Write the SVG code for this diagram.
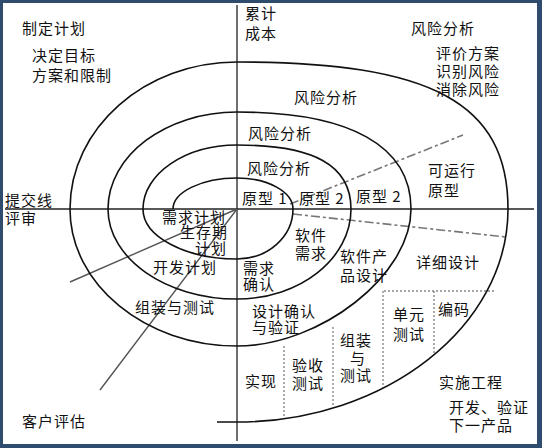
<svg xmlns="http://www.w3.org/2000/svg" width="542" height="448" viewBox="0 0 542 448">
<style>
text{font-family:"Noto Sans CJK SC","Noto Sans",sans-serif;font-size:15px;fill:#111;letter-spacing:1px}
.ax{stroke:#222;stroke-width:1.3;fill:none}
.sp{stroke:#111;stroke-width:1.6;fill:none}
.ray{stroke:#555;stroke-width:1.4;fill:none}
.dash{stroke:#777;stroke-width:1.6;fill:none;stroke-dasharray:9 3 3 3}
.dot{stroke:#888;stroke-width:1.4;fill:none;stroke-dasharray:2 2}
</style>
<rect x="0" y="0" width="542" height="448" fill="#2f4c6f"/>
<rect x="3" y="3" width="534" height="441" fill="#ffffff"/>
<g id="connectors">
<path class="ax" d="M237 5V441M5 209H534"/>
<path class="ray" d="M237 209L70 282M237 209L100 390"/>
<path class="dash" d="M290 204L463 135M293 214L506 237"/>
<path class="dot" d="M384 291H495M434 291V355M383 291V388M333 327V407M284 346V419"/>
</g>
<g id="spiral">
<path class="sp" d="M173 209C173 192 202 178 237 178C268 178 293 192 293 209C293 236.5 268 259 237 259C185 259 143 236.5 143 209C143 174 185 145 237 145C314.5 145 351 165.5 351 209C351 258.5 300 299 237 299C166 299 108 258.5 108 209C108 155.6 166 112 237 112C350 112 411 146 411 209C411 275 320.5 346 237 346C145 346 70 284 70 209C70 128 145 62 237 62C432 62 508 103 508 209C508 326 386 422 237 422L217 422"/>
</g>
<g id="labels">
<text x="22" y="34">制定计划</text>
<text x="32" y="61">决定目标</text>
<text x="32" y="81">方案和限制</text>
<text x="5" y="206">提交线</text>
<text x="5" y="224">评审</text>
<text x="245" y="19">累计</text>
<text x="245" y="39">成本</text>
<text x="411" y="34">风险分析</text>
<text x="436" y="59">评价方案</text>
<text x="436" y="77">识别风险</text>
<text x="436" y="95">消除风险</text>
<text x="294" y="103">风险分析</text>
<text x="248" y="139">风险分析</text>
<text x="247" y="174">风险分析</text>
<text x="242" y="204">原型 1</text>
<text x="299" y="204">原型 2</text>
<text x="356" y="202">原型 2</text>
<text x="428" y="176">可运行</text>
<text x="428" y="196">原型</text>
<text x="162" y="223">需求计划</text>
<text x="180" y="238">生存期</text>
<text x="195" y="254">计划</text>
<text x="153" y="273">开发计划</text>
<text x="135" y="313">组装与测试</text>
<text x="22" y="427">客户评估</text>
<text x="295" y="241">软件</text>
<text x="295" y="259">需求</text>
<text x="340" y="262">软件产</text>
<text x="340" y="281">品设计</text>
<text x="243" y="274">需求</text>
<text x="243" y="290">确认</text>
<text x="416" y="268">详细设计</text>
<text x="252" y="317">设计确认</text>
<text x="252" y="333">与验证</text>
<text x="245" y="387">实现</text>
<text x="292" y="371">验收</text>
<text x="292" y="389">测试</text>
<text x="340" y="346">组装</text>
<text x="350" y="364">与</text>
<text x="340" y="381">测试</text>
<text x="393" y="320">单元</text>
<text x="393" y="340">测试</text>
<text x="438" y="315">编码</text>
<text x="439" y="388">实施工程</text>
<text x="449" y="413">开发、验证</text>
<text x="449" y="431">下一产品</text>
</g>
</svg>
